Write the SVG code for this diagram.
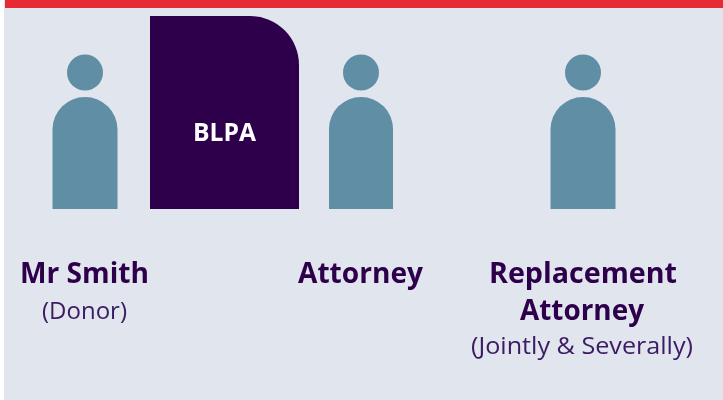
<svg xmlns="http://www.w3.org/2000/svg" width="723" height="400" viewBox="0 0 723 400">
<defs><style>
.p{fill:#5f8ea5}
.b{font-family:"Open Sans","Liberation Sans",sans-serif;font-weight:700;fill:#2d004b;font-size:28px;text-anchor:middle}
.r{font-family:"Open Sans","Liberation Sans",sans-serif;fill:#3b1a62;font-size:24px;text-anchor:middle}
.s{filter:url(#soft)}
</style>
<filter id="soft" x="-5%" y="-5%" width="110%" height="110%"><feGaussianBlur stdDeviation="0.600"/></filter></defs>
<rect width="723" height="400" fill="#fff"/>
<rect x="4" y="0" width="719" height="400" fill="#e1e6ee"/>
<rect x="5" y="0" width="718" height="8" fill="#e62b33"/>
<g id="donor" class="s"><circle class="p" cx="85" cy="72.500" r="18"/><path class="p" d="M52.500 209V129.500a32.500 32.500 0 0 1 65 0V209Z"/>
<text class="b" textLength="129" lengthAdjust="spacingAndGlyphs" x="84.500" y="283">Mr Smith</text><text class="r" textLength="85" lengthAdjust="spacingAndGlyphs" x="84.500" y="319">(Donor)</text></g>
<g id="blpa" class="s"><path d="M150 16H250a49 49 0 0 1 49 49V209H150Z" fill="#2d004b"/><text x="224.500" y="141" font-family="'Open Sans','Liberation Sans',sans-serif" font-weight="700" font-size="25" fill="#fff" text-anchor="middle" textLength="63" lengthAdjust="spacingAndGlyphs">BLPA</text></g>
<g id="attorney" class="s"><circle class="p" cx="361" cy="72.500" r="18"/><path class="p" d="M329 209V129a32 32 0 0 1 64 0V209Z"/>
<text class="b" textLength="125" lengthAdjust="spacingAndGlyphs" x="360.500" y="283">Attorney</text></g>
<g id="replacement" class="s"><circle class="p" cx="583" cy="72.500" r="18"/><path class="p" d="M550.500 209V129.500a32.500 32.500 0 0 1 65 0V209Z"/>
<text class="b" textLength="188" lengthAdjust="spacingAndGlyphs" x="583" y="283">Replacement</text><text class="b" textLength="124" lengthAdjust="spacingAndGlyphs" x="582" y="320">Attorney</text><text class="r" textLength="222" lengthAdjust="spacingAndGlyphs" x="582" y="354">(Jointly &amp; Severally)</text></g>
<g id="connectors"/>
</svg>
